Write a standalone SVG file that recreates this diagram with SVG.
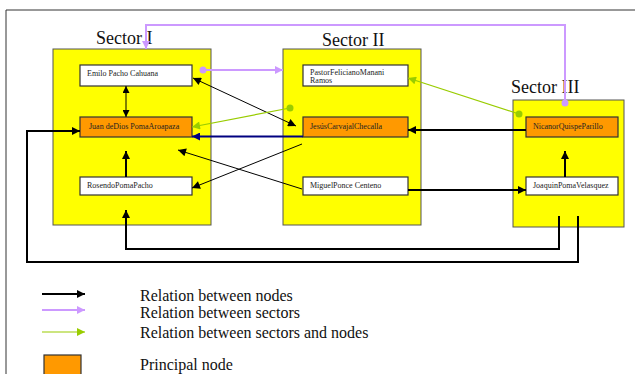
<svg xmlns="http://www.w3.org/2000/svg" width="635" height="374" viewBox="0 0 635 374">
  <style>
    .sector { fill: #ffff00; stroke: #555; stroke-width: 1; }
    .node { fill: #ffffff; stroke: #333; stroke-width: 1.2; }
    .principal { fill: #ff9900; stroke: #333; stroke-width: 1.2; }
    .title { font-family: "Liberation Serif", serif; font-size: 18px; fill: #111; }
    .label { font-family: "Liberation Serif", serif; font-size: 8px; fill: #222; }
    .legend { font-family: "Liberation Serif", serif; font-size: 16px; fill: #111; }
    .thin { fill: none; stroke: #000; stroke-width: 1; }
    .thick { fill: none; stroke: #000; stroke-width: 2; }
    .sectors { fill: none; stroke: #cc99ff; stroke-width: 2; }
    .mixed { fill: none; stroke: #99cc00; stroke-width: 1.2; }
    .navy { fill: none; stroke: #000080; stroke-width: 2; }
  </style>
  <defs>
    <marker id="ah" viewBox="0 0 10 10" refX="10" refY="5" markerWidth="9" markerHeight="8" markerUnits="userSpaceOnUse" orient="auto-start-reverse">
      <path d="M0,0 L10,5 L0,10 z" fill="#000"/>
    </marker>
    <marker id="ahs" viewBox="0 0 10 10" refX="10" refY="5" markerWidth="7" markerHeight="7" markerUnits="userSpaceOnUse" orient="auto-start-reverse">
      <path d="M0,0 L10,5 L0,10 z" fill="#000"/>
    </marker>
    <marker id="ahp" viewBox="0 0 10 10" refX="10" refY="5" markerWidth="9" markerHeight="8" markerUnits="userSpaceOnUse" orient="auto">
      <path d="M0,0 L10,5 L0,10 z" fill="#cc99ff"/>
    </marker>
    <marker id="ahg" viewBox="0 0 10 10" refX="10" refY="5" markerWidth="9" markerHeight="8" markerUnits="userSpaceOnUse" orient="auto">
      <path d="M0,0 L10,5 L0,10 z" fill="#99cc00"/>
    </marker>
    <marker id="ahn" viewBox="0 0 10 10" refX="10" refY="5" markerWidth="9" markerHeight="8" markerUnits="userSpaceOnUse" orient="auto">
      <path d="M0,0 L10,5 L0,10 z" fill="#000080"/>
    </marker>
  </defs>

  <rect width="635" height="374" fill="#ffffff"/>
  <!-- page frame -->
  <path d="M6,374 V10 H635" fill="none" stroke="#333" stroke-width="1"/>

  <!-- sectors -->
  <g id="sector-1">
    <rect class="sector" x="53" y="49" width="158" height="176"/>
    <text class="title" x="96" y="44">Sector I</text>
  </g>
  <g id="sector-2">
    <rect class="sector" x="283" y="49" width="138" height="176"/>
    <text class="title" x="322" y="46">Sector II</text>
  </g>
  <g id="sector-3">
    <rect class="sector" x="513" y="100" width="111" height="127"/>
    <text class="title" x="511" y="93">Sector III</text>
  </g>

  <!-- nodes -->
  <g id="emilo">
    <rect class="node" x="80" y="65" width="112" height="21"/>
    <text class="label" x="87" y="76">Emilo Pacho Cahuana</text>
  </g>
  <g id="juan">
    <rect class="principal" x="80" y="117" width="112" height="20"/>
    <text class="label" x="89" y="129">Juan deDios PomaAroapaza</text>
  </g>
  <g id="rosendo">
    <rect class="node" x="80" y="177" width="112" height="18"/>
    <text class="label" x="87" y="188">RosendoPomaPacho</text>
  </g>
  <g id="pastor">
    <rect class="node" x="303" y="65" width="105" height="21"/>
    <text class="label" x="310" y="75">PastorFelicianoManani</text>
    <text class="label" x="310" y="83">Ramos</text>
  </g>
  <g id="jesus">
    <rect class="principal" x="303" y="117" width="105" height="20"/>
    <text class="label" x="310" y="129">JesúsCarvajalChecalla</text>
  </g>
  <g id="miguel">
    <rect class="node" x="303" y="177" width="105" height="18"/>
    <text class="label" x="310" y="188">MiguelPonce Centeno</text>
  </g>
  <g id="nicanor">
    <rect class="principal" x="526" y="117" width="92" height="20"/>
    <text class="label" x="533" y="129">NicanorQuispeParillo</text>
  </g>
  <g id="joaquin">
    <rect class="node" x="526" y="177" width="92" height="18"/>
    <text class="label" x="533" y="188">JoaquinPomaVelasquez</text>
  </g>

  <!-- connectors -->
  <g id="connectors">
    <path class="thin" d="M126,86 V117" stroke-width="1.4" marker-start="url(#ahs)" marker-end="url(#ahs)"/>
    <path class="thick" d="M126,177 V151" marker-end="url(#ah)"/>
    <path class="thin" d="M296,126 L193,78" marker-start="url(#ah)" marker-end="url(#ah)"/>
    <path class="thin" d="M302,144 L192,188" marker-end="url(#ah)"/>
    <path class="thin" d="M302,189 L178,150" marker-end="url(#ah)"/>
    <path class="navy" d="M303,136.5 H192" marker-end="url(#ahn)"/>
    <path class="thick" d="M526,130 H408" marker-end="url(#ah)"/>
    <path class="thick" d="M408,190 H526" marker-end="url(#ah)"/>
    <path class="thick" d="M565,177 V151" marker-end="url(#ah)"/>
    <path class="thick" d="M559,216 V249 H126 V210" marker-end="url(#ah)"/>
    <path class="thick" d="M578,216 V262 H27 V131 H80" marker-end="url(#ah)"/>

    <path class="sectors" d="M565,103 V25 H146 V49" marker-end="url(#ahp)"/>
    <circle cx="565" cy="103" r="3.5" fill="#cc99ff"/>
    <path class="sectors" d="M203,70 H283" marker-end="url(#ahp)"/>
    <circle cx="203" cy="70" r="3.5" fill="#cc99ff"/>

    <path class="mixed" d="M290,108 L192,127" marker-end="url(#ahg)"/>
    <circle cx="290" cy="108" r="3.5" fill="#99cc00"/>
    <path class="mixed" d="M519,114 L408,78" marker-end="url(#ahg)"/>
    <circle cx="519" cy="114" r="3.5" fill="#99cc00"/>
  </g>

  <!-- legend -->
  <g id="legend">
    <path class="thick" d="M42,294 H85" marker-end="url(#ah)"/>
    <text class="legend" x="140" y="301">Relation between nodes</text>
    <path class="sectors" d="M42,310 H85" marker-end="url(#ahp)"/>
    <text class="legend" x="140" y="318">Relation between sectors</text>
    <path class="mixed" d="M42,332 H85" stroke-width="2" marker-end="url(#ahg)"/>
    <text class="legend" x="140" y="338">Relation between sectors and nodes</text>
    <rect class="principal" x="44" y="355" width="37" height="25"/>
    <text class="legend" x="140" y="370">Principal node</text>
  </g>
</svg>
